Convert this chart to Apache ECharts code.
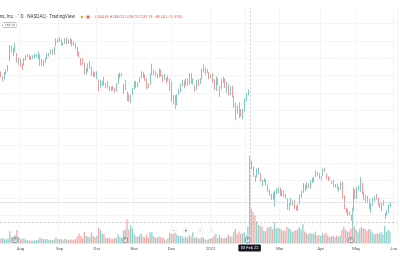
<!DOCTYPE html>
<html><head><meta charset="utf-8">
<script src="https://cdn.jsdelivr.net/npm/echarts@6/dist/echarts.min.js"></script>
<style>html,body{margin:0;padding:0;background:#fff}#c{width:400px;height:266px}</style>
</head><body><div id="c"></div>
<script>
// rows: [day, open, high, low, close, volume (millions)]
const jul2021 = [[16,343.9,345.0,338.4,341.2,13],[19,337.0,339.3,333.7,337.0,14],[20,338.0,344.2,336.0,341.7,12],[21,342.4,347.1,341.2,346.2,11],[22,346.5,352.2,344.8,351.2,14],[23,357.4,375.0,356.7,369.8,33],[26,369.6,374.5,366.7,372.5,17],[27,371.8,372.0,362.2,367.8,18],[28,372.5,377.6,366.6,373.3,23],[29,360.0,365.9,355.0,358.3,36],[30,354.0,360.7,352.5,356.3,18]];
const aug2021 = [[2,358.1,359.6,350.2,352.0,13],[3,353.0,354.0,346.9,351.2,12],[4,352.5,360.0,351.9,358.9,14],[5,359.0,363.5,357.1,363.0,10],[6,362.0,365.0,360.9,363.5,9],[9,363.8,364.0,358.5,361.6,8],[10,362.0,363.0,358.0,361.2,8],[11,361.5,363.5,359.5,362.7,8],[12,362.0,365.0,360.0,362.8,8],[13,363.0,364.9,360.8,363.2,9],[16,361.0,367.8,359.0,366.6,10],[17,364.0,364.5,351.0,351.6,17],[18,352.0,359.0,351.5,356.2,13],[19,353.0,358.0,350.5,355.0,12],[20,355.5,360.8,354.5,359.4,11],[23,360.0,365.9,359.0,363.3,12],[24,364.0,366.0,361.9,365.5,9],[25,365.5,370.0,364.5,368.4,10],[26,368.0,370.5,364.0,364.4,9],[27,365.0,373.0,364.0,372.6,11],[30,374.0,382.8,373.5,380.7,16],[31,380.9,382.2,377.5,379.4,12]];
const sep2021 = [[1,379.6,384.3,378.8,382.1,11],[2,381.6,381.8,374.4,375.3,12],[3,376.0,378.0,374.6,376.3,9],[7,377.0,383.0,376.5,382.2,12],[8,382.5,383.5,376.0,377.6,11],[9,377.0,381.5,376.5,378.0,9],[10,379.5,382.5,376.5,378.7,11],[13,381.0,381.6,373.5,376.5,11],[14,377.0,379.0,374.0,376.5,9],[15,376.0,377.4,370.8,373.9,12],[16,372.5,373.0,362.5,364.7,19],[17,365.0,367.5,361.0,364.7,27],[20,357.0,360.0,351.8,355.7,20],[21,358.0,360.0,352.6,357.5,14],[22,353.0,354.5,341.5,343.2,31],[23,344.0,348.8,341.5,346.0,20],[24,345.0,354.0,344.5,353.0,19],[27,351.5,356.5,348.0,353.6,16],[28,348.3,350.3,339.6,340.7,30],[29,342.6,345.0,338.5,339.6,20],[30,341.5,344.0,338.8,339.4,17]];
const oct2021 = [[1,341.6,345.0,336.0,343.0,21],[4,335.5,335.9,322.3,326.2,42],[5,328.6,335.2,326.4,333.0,36],[6,329.7,334.0,328.0,333.6,26],[7,337.0,338.8,329.0,329.2,26],[8,331.0,331.5,326.0,330.1,15],[11,330.0,333.8,325.3,325.5,14],[12,326.0,328.0,322.3,323.8,16],[13,325.0,327.5,322.5,324.5,13],[14,328.0,328.5,323.0,324.8,12],[15,326.0,326.5,320.5,324.8,15],[18,324.0,331.5,322.0,331.0,15],[19,331.2,342.0,330.5,340.8,25],[20,341.0,343.5,337.5,341.9,18],[21,341.3,343.0,339.0,341.9,15],[22,320.0,330.9,319.0,324.6,35],[25,326.0,335.0,323.5,328.7,38],[26,320.0,321.9,311.0,315.8,65],[27,316.0,319.3,310.5,312.2,37],[28,313.0,318.0,309.0,316.9,50],[29,320.0,326.0,318.0,323.6,41]];
const nov2021 = [[1,326.0,333.5,324.5,330.0,26],[2,329.0,334.0,326.0,328.1,19],[3,328.0,332.5,326.5,331.6,18],[4,332.0,338.0,331.5,335.9,22],[5,337.0,345.0,336.5,341.1,27],[8,342.0,344.0,337.5,338.6,18],[9,339.0,341.5,334.0,335.4,17],[10,334.0,337.0,325.0,327.6,24],[11,329.0,331.0,326.0,327.7,15],[12,330.0,342.5,329.5,340.9,30],[15,342.0,353.8,341.0,347.6,30],[16,345.5,347.0,340.5,343.0,19],[17,343.0,345.0,339.0,340.8,16],[18,341.5,343.0,336.5,338.7,16],[19,340.0,348.0,338.0,345.3,19],[22,345.0,347.0,339.0,341.0,17],[23,340.0,341.0,333.0,337.3,16],[24,336.5,342.0,335.0,341.1,12],[26,336.0,338.0,331.0,333.1,8],[29,336.5,340.0,334.0,338.0,14],[30,335.0,337.0,322.5,324.5,28]];
const dec2021 = [[1,330.0,333.5,310.0,310.4,26],[2,311.5,318.0,307.0,316.9,25],[3,317.0,317.5,302.0,306.8,29],[6,309.0,318.5,306.0,317.9,24],[7,322.0,324.5,318.0,322.8,21],[8,323.0,331.0,321.0,330.6,20],[9,329.5,335.0,328.0,329.8,20],[10,332.0,334.5,325.5,329.8,15],[13,330.0,337.0,328.5,334.5,19],[14,331.0,337.0,328.5,333.7,16],[15,333.0,343.0,329.5,341.7,22],[16,341.0,343.0,331.0,334.9,19],[17,332.0,337.0,330.0,333.8,30],[20,327.0,329.0,322.0,325.5,15],[21,327.0,335.0,324.0,334.2,17],[22,333.0,336.0,328.0,330.5,14],[23,332.0,336.8,330.5,335.2,12],[27,336.0,347.9,335.5,346.2,17],[28,347.0,352.7,343.5,346.2,16],[29,346.5,349.5,341.0,342.9,11],[30,344.0,347.5,343.0,344.4,10],[31,343.0,344.0,336.0,336.4,12]];
const jan2022 = [[3,338.3,341.1,337.2,338.5,14],[4,339.9,343.1,331.9,336.5,15],[5,333.0,335.8,323.8,324.2,20],[6,322.8,339.2,322.7,332.5,27],[7,332.7,337.0,328.9,331.8,14],[10,325.0,328.3,315.6,328.1,23],[11,328.2,336.3,324.3,334.4,15],[12,336.6,338.7,331.6,333.3,14],[13,334.4,336.8,325.9,326.5,14],[14,321.5,333.0,320.5,331.9,16],[18,326.5,330.0,317.0,318.2,24],[19,318.6,327.8,317.6,319.6,19],[20,324.0,328.5,315.5,316.6,18],[21,314.8,317.2,303.1,303.2,31],[24,298.0,308.9,289.0,308.7,39],[25,302.0,306.0,296.6,300.2,25],[26,305.0,309.5,291.5,294.6,32],[27,300.0,301.9,293.0,294.6,26],[28,294.0,302.0,290.5,301.7,27],[31,301.7,314.0,298.8,313.3,30]];
const feb2022 = [[1,314.6,320.0,310.3,319.0,22],[2,320.0,324.2,317.5,323.0,45],[3,244.7,248.0,228.8,237.8,188],[4,234.5,242.8,232.4,237.1,93],[7,235.1,236.1,224.2,224.9,84],[8,223.0,225.7,218.5,220.2,75],[9,224.0,233.6,223.5,232.0,60],[10,227.2,235.0,227.0,228.1,50],[11,225.0,228.5,218.5,219.6,48],[14,217.0,221.0,213.5,217.7,45],[15,220.0,222.5,218.3,221.0,34],[16,219.0,221.0,214.0,216.5,33],[17,214.0,215.5,206.7,207.7,42],[18,208.0,209.9,202.5,206.2,45],[22,200.0,205.0,197.8,202.1,45],[23,204.0,206.0,198.0,198.5,38],[24,190.6,208.5,190.2,207.6,57],[25,209.0,211.0,204.3,210.5,40],[28,208.0,212.2,205.5,211.0,43]];
const mar2022 = [[1,210.0,212.0,202.0,203.5,40],[2,205.0,209.0,202.1,208.1,37],[3,208.8,209.0,201.0,203.0,34],[4,202.0,205.0,199.0,200.1,35],[7,198.5,199.5,186.5,187.5,45],[8,186.0,194.5,185.8,190.3,40],[9,194.0,200.0,192.0,198.5,38],[10,195.0,197.0,191.2,195.2,30],[11,196.5,197.5,187.5,187.6,34],[14,187.4,191.0,185.8,186.6,35],[15,188.0,193.0,185.0,192.0,38],[16,195.0,204.0,192.5,203.6,44],[17,202.0,208.1,200.0,207.8,38],[18,206.5,217.0,205.8,216.5,52],[21,215.0,215.5,208.0,211.5,32],[22,211.0,217.5,210.0,216.7,27],[23,214.0,216.7,211.5,213.5,25],[24,214.0,220.0,211.0,219.6,28],[25,218.0,223.0,217.0,221.8,26],[28,221.0,224.0,218.5,223.6,25],[29,227.0,231.5,224.0,229.9,32],[30,228.0,230.0,225.5,227.9,21],[31,227.0,228.5,222.0,222.4,23]];
const apr2022 = [[1,223.0,225.0,220.0,224.9,21],[4,226.0,234.0,225.0,233.9,28],[5,232.5,234.5,230.0,231.3,24],[6,227.0,228.0,222.0,223.3,29],[7,223.0,224.8,219.5,223.0,22],[8,221.0,223.5,221.0,222.3,17],[11,219.0,219.5,216.0,216.5,20],[12,219.0,221.0,213.0,214.1,21],[13,214.0,216.0,212.0,215.0,17],[14,215.0,216.5,210.0,210.2,21],[18,209.0,212.5,207.5,210.8,18],[19,210.0,218.0,209.5,217.3,22],[20,218.0,218.5,199.9,200.4,36],[21,201.0,203.0,187.0,188.1,45],[22,188.0,188.5,183.0,184.1,36],[25,181.0,187.5,179.5,187.0,32],[26,183.0,184.5,180.0,181.0,32],[27,179.0,181.0,174.0,175.0,40],[28,187.0,212.0,185.5,205.7,96],[29,203.5,210.0,199.0,200.5,45]];
const may2022 = [[2,201.0,212.5,199.0,211.1,36],[3,211.0,214.5,208.5,212.0,30],[4,212.0,224.0,207.0,223.4,40],[5,216.0,217.5,204.0,208.3,45],[6,205.0,207.5,197.5,203.8,40],[9,199.0,204.0,195.0,196.2,39],[10,199.0,202.5,194.0,197.7,34],[11,194.0,199.0,187.5,188.7,38],[12,185.0,194.5,183.5,191.2,37],[13,192.5,200.0,191.0,198.6,30],[16,197.0,202.0,196.5,200.0,25],[17,204.0,204.5,198.0,202.6,26],[18,198.0,200.5,191.5,192.2,27],[19,190.5,195.5,188.5,191.3,27],[20,193.0,195.5,185.0,193.5,31],[23,194.0,197.5,191.0,196.2,25],[24,180.0,183.0,175.5,180.6,48],[25,181.5,186.0,180.0,183.8,32],[26,183.5,193.0,183.0,191.6,36],[27,192.0,195.5,189.5,195.1,33]];

const monthKeys = ['2021-07','2021-08','2021-09','2021-10','2021-11','2021-12','2022-01','2022-02','2022-03','2022-04','2022-05'];
const monthRows = [jul2021,aug2021,sep2021,oct2021,nov2021,dec2021,jan2022,feb2022,mar2022,apr2022,may2022];
const futureDates = ['2022-05-31','2022-06-01','2022-06-02'];
const monthNames = {'01':'2022','02':'Feb','03':'Mar','04':'Apr','05':'May','06':'Jun','07':'Jul','08':'Aug','09':'Sep','10':'Oct','11':'Nov','12':'Dec'};
const crosshairDate = '2022-02-03';
const crosshairLabel = '03 Feb 22';
const crosshairPrice = 172.5;
const lastPrice = 195.13;
const earningsDates = ['2021-07-28','2021-10-25','2022-02-02','2022-04-27'];
const headerTitle = 'Meta Platforms, Inc. · 1D · NASDAQ · TradingView';
const headerOHLC = 'O244.65 H248.00 L228.75 C237.76 −85.24 (−26.39%)';
const priceBadge = '195.13';

const UP = '#26a69a', DOWN = '#ef5350';
const dates = [], candles = [], vols = [], isUp = [];
monthRows.forEach((rows, m) => rows.forEach(r => {
  const d = monthKeys[m] + '-' + String(r[0]).padStart(2, '0');
  dates.push(d);
  candles.push([r[1], r[4], r[3], r[2]]);
  vols.push(r[5]);
  isUp.push(r[4] >= r[1]);
}));
futureDates.forEach(d => { dates.push(d); candles.push('-'); vols.push('-'); isUp.push(true); });
const monthStart = dates.map((d, i) => i > 0 && d.slice(0, 7) !== dates[i - 1].slice(0, 7));
const crossIdx = dates.indexOf(crosshairDate);

const FONT = 'Roboto, sans-serif';
const GRIDC = '#f4f5f8';
const chart = echarts.init(document.getElementById('c'), null, {renderer: 'canvas'});
chart.setOption({
  animation: false,
  backgroundColor: '#ffffff',
  tooltip: {show: false},
  grid: [
    {left: 0, right: 3, top: 8, bottom: 33.1},
    {left: 0, right: 3, top: 163.5, bottom: 22.5}
  ],
  xAxis: [
    {type: 'category', gridIndex: 0, data: dates, boundaryGap: true,
     axisLine: {show: false}, axisTick: {show: false}, axisLabel: {show: false},
     splitLine: {show: true, interval: (i) => monthStart[i], lineStyle: {color: GRIDC, width: 1}}},
    {type: 'category', gridIndex: 1, data: dates, boundaryGap: true,
     axisLine: {show: false}, axisTick: {show: false},
     axisLabel: {show: true, interval: (i) => monthStart[i], formatter: (v) => monthNames[v.slice(5, 7)],
       fontSize: 4.2, color: '#50535e', margin: 3.5, fontFamily: FONT},
     splitLine: {show: false},
     axisPointer: {show: true, type: 'line', value: crossIdx, status: 'show', snap: true, triggerTooltip: false,
       lineStyle: {color: '#b2b5be', width: 0.6, type: [2, 2]},
       label: {show: true, formatter: () => crosshairLabel, backgroundColor: '#131722', color: '#ffffff',
         fontSize: 4, padding: [1.5, 2.5, 1.5, 2.5], margin: 1, fontFamily: FONT, borderRadius: 1}}}
  ],
  yAxis: [
    {type: 'value', gridIndex: 0, min: 160, max: 417.5, interval: 20, position: 'right',
     axisLine: {show: false}, axisTick: {show: false}, axisLabel: {show: false},
     splitLine: {show: true, showMaxLine: false, showMinLine: false, lineStyle: {color: GRIDC, width: 1}}},
    {type: 'value', gridIndex: 1, min: 0, max: 215, show: false}
  ],
  series: [
    {type: 'bar', name: 'Volume', xAxisIndex: 1, yAxisIndex: 1, data: vols, barWidth: 1.3, z: 1,
     itemStyle: {color: (p) => isUp[p.dataIndex] ? 'rgba(38,166,154,0.5)' : 'rgba(239,83,80,0.5)'},
     markPoint: {silent: true, symbol: 'roundRect', symbolSize: [4.5, 4.5],
       itemStyle: {color: '#ffffff', borderColor: '#4a4d57', borderWidth: 0.6},
       label: {show: true, formatter: 'E', fontSize: 3.2, color: '#4a4d57', fontFamily: FONT},
       data: earningsDates.map(d => ({coord: [d, 9]}))}},
    {type: 'candlestick', name: 'META', xAxisIndex: 0, yAxisIndex: 0, data: candles, barWidth: '62%', z: 3,
     itemStyle: {color: UP, color0: DOWN, borderColor: UP, borderColor0: DOWN, borderWidth: 0.6},
     markLine: {silent: true, symbol: 'none', label: {show: false},
       data: [
         {xAxis: crosshairDate, lineStyle: {color: '#b2b5be', width: 0.6, type: [2, 2]}},
         {yAxis: crosshairPrice, lineStyle: {color: '#a3a6af', width: 0.6, type: [2, 2]}},
         {yAxis: lastPrice, lineStyle: {color: '#d6d8dc', width: 0.7, type: 'solid'}}
       ]}}
  ],
  graphic: [
    {type: 'text', x: 75, y: 17, style: {text: headerTitle, align: 'right', verticalAlign: 'middle',
      fontSize: 4.7, fill: '#3b3e48', fontFamily: FONT}},
    {type: 'circle', shape: {cx: 82, cy: 17, r: 1.3}, style: {fill: '#f5a623'}},
    {type: 'circle', shape: {cx: 88, cy: 17, r: 2.6}, style: {fill: '#fbd3d2'}},
    {type: 'circle', shape: {cx: 88, cy: 17, r: 1.2}, style: {fill: '#ef5350'}},
    {type: 'text', x: 95, y: 17, style: {text: headerOHLC, align: 'left', verticalAlign: 'middle',
      fontSize: 3.7, fill: '#ef5350', fontFamily: FONT}},
    {type: 'text', x: 3, y: 25, style: {text: priceBadge, align: 'left', verticalAlign: 'middle',
      fontSize: 3.4, fill: '#3b3e48', fontFamily: FONT, borderColor: '#9598a1', borderWidth: 0.5,
      padding: [0.8, 1.6, 0.8, 1.6], borderRadius: 1, backgroundColor: '#ffffff'}},
    ...[['−', 174], ['+', 186], ['‹', 200], ['›', 211]].map(([t, x]) => ({type: 'group', x: x, y: 230.5, children: [
      {type: 'circle', shape: {cx: 0, cy: 0, r: 3.2}, style: {fill: '#ffffff', stroke: '#e4e6eb', lineWidth: 0.5}},
      {type: 'text', x: 0, y: 0, style: {text: t, align: 'center', verticalAlign: 'middle', fontSize: 5, fill: '#50535e', fontFamily: FONT}}
    ]}))
  ]
});
</script></body></html>
